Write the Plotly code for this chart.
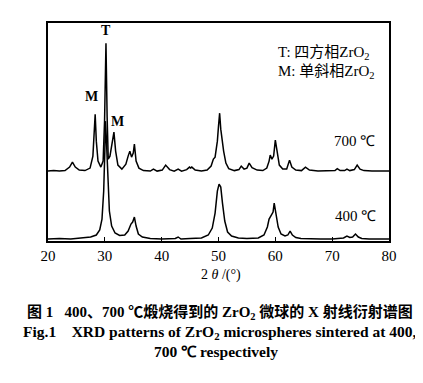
import plotly.graph_objects as go

# 2theta (deg) and intensity (a.u.)
x700 = [
    20, 21, 22, 23, 23.8, 24.3, 24.8, 25.5, 26.5, 27.4,
    27.9, 28.1, 28.3, 28.5, 28.8, 29.3, 29.7, 29.95, 30.2, 30.4,
    30.6, 30.9, 31.2, 31.4, 31.6, 31.9, 32.3, 33.0, 33.7, 34.1,
    34.4, 34.7, 35.0, 35.2, 35.5, 36.0, 36.8, 38.0, 38.55, 39.2,
    40.1, 40.7, 41.4, 42.2, 42.9, 43.5, 44.4, 44.9, 45.1, 45.3,
    45.9, 47.0, 48.0, 48.7, 49.1, 49.4, 49.8, 50.0, 50.2, 50.4,
    50.6, 50.9, 51.3, 51.8, 52.8, 53.6, 54.0, 54.5, 55.0, 55.4,
    55.9, 56.8, 57.8, 58.5, 58.9, 59.1, 59.4, 59.7, 60.0, 60.3,
    60.7, 61.3, 62.0, 62.5, 62.9, 63.6, 64.6, 65.3, 66.0, 67.5,
    69.5, 70.5, 70.9, 71.4, 72.2, 72.6, 73.1, 73.9, 74.4, 74.9,
    75.6, 77.0, 80.0]
y700 = [
    70, 70.5, 70, 70.5, 74, 79, 74, 71, 70.5, 73,
    85, 105, 127, 100, 80, 74, 80, 120, 198, 125,
    82, 85, 95, 105, 109, 90, 76, 72, 77, 85,
    90, 84, 88, 97, 80, 73, 70.5, 70, 72, 70,
    71, 76, 71.5, 70, 72, 70, 71.5, 74, 73, 74,
    71, 70, 71, 75, 82, 84, 100, 115, 128, 112,
    103, 90, 78, 72.5, 70.5, 71.5, 75, 72, 73, 78,
    73.5, 71, 70.5, 73, 80, 86, 82, 85, 101, 88,
    76, 72, 72, 81, 74, 71, 70.5, 74, 71, 70,
    70, 70.5, 72.5, 70.5, 70.5, 72, 70.5, 71.5, 76, 72,
    70.5, 70, 70]

x400 = [
    20, 22, 24, 26, 27.5, 28.5, 29.1, 29.5, 29.8, 30.0,
    30.1, 30.25, 30.5, 30.8, 31.2, 31.8, 32.6, 33.5, 34.1, 34.6,
    34.9, 35.2, 35.5, 35.9, 36.6, 38, 40, 42.4, 42.9, 43.4,
    45, 47, 48.2, 48.9, 49.4, 49.8, 50.1, 50.4, 50.7, 51.1,
    51.6, 52.3, 53.5, 55, 57, 58.0, 58.6, 58.9, 59.3, 59.6,
    59.8, 60.1, 60.5, 61.0, 61.7, 62.2, 62.6, 63.0, 63.6, 64.5,
    66, 68, 70, 72.0, 72.6, 73.1, 73.6, 74.1, 74.6, 75.2,
    76.5, 78, 80.0]
y400 = [
    2, 2.5, 2, 3, 4, 6, 11, 22, 50, 90,
    120, 105, 60, 30, 15, 8, 5.5, 6, 10, 17,
    19, 24, 15, 7, 4, 2.5, 2, 2.5, 4, 2,
    2.5, 3, 6, 13, 28, 50, 57, 54, 38, 20,
    9, 5, 3, 2.5, 3, 6, 14, 22, 26, 29,
    38, 28, 14, 7, 5, 6, 10, 6, 3.5, 2.5,
    2, 2, 2, 3, 5, 3.5, 4, 7, 4, 2.5,
    2, 2, 2]

tick_vals = [20, 30, 40, 50, 60, 70, 80]
tick_text = ["20", "30", "40", "50", "60", "70", "80"]

assert len(x700) == len(y700) and len(x400) == len(y400)

SERIF = "Liberation Serif, Times New Roman, serif"
MIXED = "Liberation Serif, Noto Sans CJK SC, serif"

fig = go.Figure()
fig.add_trace(go.Scatter(x=x700, y=y700, mode="lines",
                         line=dict(color="black", width=1.5), showlegend=False))
fig.add_trace(go.Scatter(x=x400, y=y400, mode="lines",
                         line=dict(color="black", width=1.5), showlegend=False))

L, R, T, B = 40, 381, 15, 233.3
W, H = 423, 383


def px(x):
    return (x - L) / (R - L)


def py(y):
    return (B - y) / (B - T)


NB = "\u00a0"
anns = [
    dict(x=30.2, y=198, xref="x", yref="y", text="<b>T</b>", yshift=13,
         font=dict(size=14, family=SERIF)),
    dict(x=28.3, y=127, xref="x", yref="y", text="<b>M</b>", xshift=-4, yshift=18,
         font=dict(size=14, family=SERIF)),
    dict(x=31.6, y=109, xref="x", yref="y", text="<b>M</b>", xshift=4, yshift=11,
         font=dict(size=14, family=SERIF)),
    dict(x=px(316), y=py(45), text="T: 四方相ZrO<sub>2</sub>",
         font=dict(size=15, family=MIXED)),
    dict(x=px(318), y=py(64), text="M: 单斜相ZrO<sub>2</sub>",
         font=dict(size=15, family=MIXED)),
    dict(x=px(346), y=py(133), text="700 ℃", font=dict(size=15, family=SERIF)),
    dict(x=px(347), y=py(208), text="400 ℃", font=dict(size=15, family=SERIF)),
    dict(x=px(213), y=py(267), text="2 <i>θ</i> /(°)", font=dict(size=14, family=SERIF)),
    dict(x=px(212), y=py(305),
         text="<b>图 1" + NB * 3 + "400、700 ℃煅烧得到的 ZrO<sub>2</sub> 微球的 X 射线衍射谱图</b>",
         font=dict(size=15, family=MIXED)),
    dict(x=px(211), y=py(325),
         text="<b>Fig.1" + NB * 4 + "XRD patterns of ZrO<sub>2</sub> microspheres sintered at 400,</b>",
         font=dict(size=15.5, family=SERIF)),
    dict(x=px(208), y=py(344), text="<b>700 ℃ respectively</b>",
         font=dict(size=15.5, family=SERIF)),
]
for a in anns:
    a.setdefault("xref", "paper")
    a.setdefault("yref", "paper")
    a.update(showarrow=False, xanchor="center", yanchor="middle")
    a["font"]["color"] = "black"

fig.update_layout(
    width=W, height=H,
    margin=dict(l=L, r=W - R, t=T, b=H - B, pad=0),
    paper_bgcolor="white", plot_bgcolor="white",
    annotations=anns,
    xaxis=dict(range=[20, 80], tickvals=tick_vals, ticktext=tick_text,
               ticks="inside", ticklen=4, tickwidth=1.2, tickcolor="black",
               showline=True, linecolor="black", linewidth=1.6, mirror=True,
               showgrid=False, zeroline=False,
               tickfont=dict(size=15, family=SERIF, color="black")),
    yaxis=dict(range=[0, 218.3], showticklabels=False, ticks="",
               showline=True, linecolor="black", linewidth=1.6, mirror=True,
               showgrid=False, zeroline=False),
)
fig.write_html("out.html")
